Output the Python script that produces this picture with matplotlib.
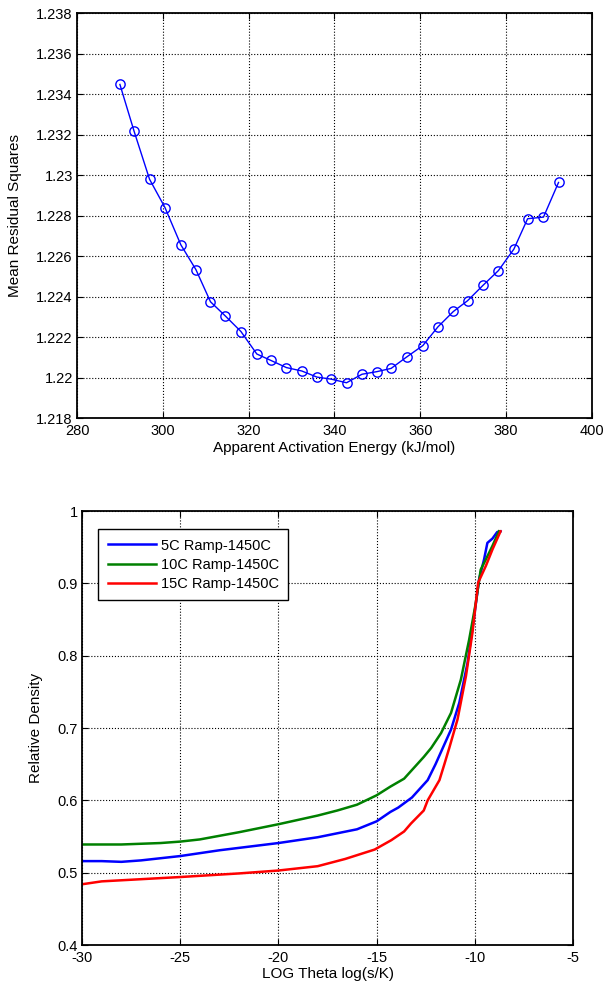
import numpy as np
import matplotlib.pyplot as plt

plt.rcParams['font.family'] = ['Liberation Sans', 'DejaVu Sans']

# Top plot: mean residual squares vs apparent activation energy
energy = [290.0, 293.3, 296.9, 300.5, 304.2, 307.7, 311.1, 314.6, 318.2, 321.9,
          325.1, 328.8, 332.4, 335.9, 339.2, 342.8, 346.4, 349.9, 353.2, 356.8,
          360.6, 364.1, 367.7, 371.0, 374.6, 378.2, 381.8, 385.0, 388.7, 392.2]
residual = [1.23448, 1.23217, 1.22980, 1.22840, 1.22656, 1.22534, 1.22375, 1.22304,
            1.22228, 1.22117, 1.22086, 1.22050, 1.22033, 1.22003, 1.21993, 1.21975,
            1.22017, 1.22030, 1.22046, 1.22102, 1.22159, 1.22251, 1.22327, 1.22380,
            1.22456, 1.22529, 1.22635, 1.22785, 1.22793, 1.22964]
top_yticks = [1.218, 1.22, 1.222, 1.224, 1.226, 1.228, 1.23, 1.232, 1.234, 1.236, 1.238]
top_ylabels = ['1.218', '1.22', '1.222', '1.224', '1.226', '1.228', '1.23',
               '1.232', '1.234', '1.236', '1.238']
top_xticks = [280, 300, 320, 340, 360, 380, 400]

# Bottom plot: relative density vs log theta
x5 = [-30, -29, -28, -27, -26, -25, -23, -20, -18, -16, -15, -14.3, -13.9, -13.2,
      -12.4, -12.0, -11.63, -11.21, -10.79, -10.37, -10.03, -9.78, -9.53, -9.36,
      -9.1, -8.86, -8.69]
y5 = [0.516, 0.516, 0.515, 0.517, 0.520, 0.523, 0.531, 0.541, 0.549, 0.560, 0.571,
      0.584, 0.590, 0.604, 0.628, 0.650, 0.6725, 0.698, 0.735, 0.790, 0.855, 0.906,
      0.933, 0.956, 0.962, 0.971, 0.972]
x10 = [-30, -28, -27, -26, -25, -24, -22, -20, -18, -17, -16, -15, -14.3, -13.6,
       -13.0, -12.6, -12.22, -11.72, -11.21, -10.71, -10.29, -9.95, -9.7, -9.44,
       -9.1, -8.77]
y10 = [0.539, 0.539, 0.540, 0.541, 0.543, 0.546, 0.556, 0.567, 0.579, 0.586, 0.594,
       0.607, 0.619, 0.630, 0.648, 0.660, 0.6725, 0.693, 0.721, 0.767, 0.822, 0.873,
       0.919, 0.933, 0.952, 0.972]
x15 = [-30, -29, -27, -25, -22, -20, -18, -16.6, -15.1, -14.25, -13.6, -13.25,
       -12.6, -12.4, -11.8, -11.55, -11.3, -10.88, -10.45, -10.12, -9.83, -9.44,
       -9.1, -8.69]
y15 = [0.484, 0.488, 0.491, 0.494, 0.499, 0.503, 0.509, 0.519, 0.532, 0.545, 0.557,
       0.568, 0.586, 0.600, 0.628, 0.650, 0.6725, 0.712, 0.772, 0.832, 0.901, 0.924,
       0.947, 0.972]
series_names = ['5C Ramp-1450C', '10C Ramp-1450C', '15C Ramp-1450C']
series_colors = ['#0000ff', '#008000', '#ff0000']


def matlab_style(ax):
    ax.grid(True, linestyle=':', color='black', linewidth=0.8)
    ax.tick_params(direction='in', top=True, right=True, length=4,
                   width=0.8, labelsize=10.5)
    ax.tick_params(axis='x', pad=4)
    ax.tick_params(axis='y', pad=3)
    for s in ax.spines.values():
        s.set_linewidth(1.3)


fig = plt.figure(figsize=(6.04, 9.91), dpi=100)

# ---- top axes ----
ax1 = fig.add_axes([0.1275, 0.578, 0.8526, 0.4087])
ax1.plot(energy, residual, color='#0000ff', marker='o', markerfacecolor='none',
         markersize=6.7, markeredgewidth=1.0, linewidth=1.0)
ax1.set_xlim(280, 400)
ax1.set_ylim(1.218, 1.238)
ax1.set_xticks(top_xticks)
ax1.set_yticks(top_yticks)
ax1.set_yticklabels(top_ylabels)
ax1.set_xlabel('Apparent Activation Energy (kJ/mol)', fontsize=11, labelpad=2)
ax1.set_ylabel('Mean Residual Squares', fontsize=11)
ax1.yaxis.set_label_coords(-0.106, 0.5)
matlab_style(ax1)

# ---- bottom axes ----
ax2 = fig.add_axes([0.1358, 0.0464, 0.8129, 0.4379])
for xs, ys, name, c in zip([x5, x10, x15], [y5, y10, y15], series_names, series_colors):
    ax2.plot(xs, ys, color=c, linewidth=1.8, label=name)
ax2.set_xlim(-30, -5)
ax2.set_ylim(0.4, 1.0)
ax2.set_xticks([-30, -25, -20, -15, -10, -5])
ax2.set_xticklabels(['-30', '-25', '-20', '-15', '-10', '-5'])
ax2.set_yticks([0.4, 0.5, 0.6, 0.7, 0.8, 0.9, 1.0])
ax2.set_yticklabels(['0.4', '0.5', '0.6', '0.7', '0.8', '0.9', '1'])
ax2.set_xlabel('LOG Theta log(s/K)', fontsize=11, labelpad=2)
ax2.set_ylabel('Relative Density', fontsize=11)
ax2.yaxis.set_label_coords(-0.079, 0.5)
matlab_style(ax2)
leg = ax2.legend(loc='upper left', bbox_to_anchor=(0.0326, 0.9585), borderaxespad=0,
                 fontsize=10.5, fancybox=False, framealpha=1, edgecolor='black',
                 handlelength=3.3, handletextpad=0.35, borderpad=0.65,
                 labelspacing=0.35)
leg.get_frame().set_linewidth(1.0)

fig.savefig('out.png', dpi=100)
